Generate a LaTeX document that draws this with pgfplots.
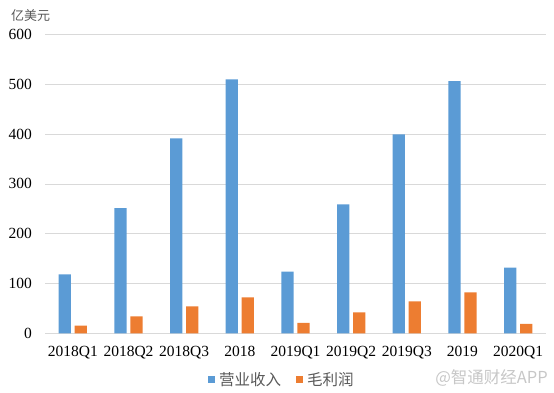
\documentclass[border=0pt]{standalone}
\usepackage{pgfplots}
\pgfplotsset{compat=1.18}
\usepackage{fontspec}
\setmainfont{Liberation Serif}
\newfontfamily\cjk{Noto Sans CJK SC}
\definecolor{cblue}{HTML}{5B9BD5}
\definecolor{corange}{HTML}{ED7D31}
\definecolor{cgrid}{HTML}{D9D9D9}
\definecolor{ctext}{HTML}{595959}
\begin{document}
\begin{tikzpicture}[x=1pt,y=1pt]
\path[use as bounding box] (0,0) rectangle (554,392);
\begin{axis}[
  at={(45pt,58.7pt)}, anchor=south west,
  scale only axis, width=501pt, height=298.8pt,
  xmin=-0.5, xmax=8.5, ymin=0, ymax=600,
  ytick={0,100,...,600},
  xtick={0,...,8},
  xticklabels={2018Q1,2018Q2,2018Q3,2018,2019Q1,2019Q2,2019Q3,2019,2020Q1},
  ymajorgrids, grid style={cgrid, line width=0.8pt},
  axis line style={draw=none},
  major tick length=0pt,
  /pgf/number format/assume math mode=true,
  tick label style={font=\fontsize{15.5}{18}\selectfont, text=black},
  xticklabel style={inner sep=0pt, anchor=north, yshift=-13pt},
  yticklabel style={inner sep=0pt, anchor=east, xshift=-13pt},
  ybar, bar width=12.3pt,
  legend columns=2,
  legend style={at={(0.473,-0.156)}, anchor=center, draw=none, fill=none,
    font=\cjk\fontsize{15.5}{18}\selectfont, text=ctext,
    /tikz/every even column/.append style={column sep=13pt},
    inner sep=0pt},
  legend image code/.code={\fill[#1,draw=none] (0pt,-3.5pt) rectangle (7pt,3.5pt); \path (9pt,0pt);},
]
\addplot[fill=cblue, draw=none, bar shift=-8pt] coordinates {
(0,118.5) (1,251.6) (2,391.6) (3,510) (4,123.7) (5,259) (6,399.6) (7,506.6) (8,131.7)};
\addplot[fill=corange, draw=none, bar shift=8pt] coordinates {
(0,15.3) (1,34) (2,54) (3,72.3) (4,20.7) (5,42) (6,64) (7,82.3) (8,18.7)};
\legend{营业收入,毛利润}
\end{axis}
\node[anchor=west, inner sep=0pt, text=ctext, font=\cjk\fontsize{13}{15}\selectfont] at (11,376) {亿美元};
\node[anchor=east, inner sep=0pt, text=black!22, font=\fontsize{16.5}{18}\selectfont\cjk] at (548,14) {@智通财经APP};
\end{tikzpicture}
\end{document}
